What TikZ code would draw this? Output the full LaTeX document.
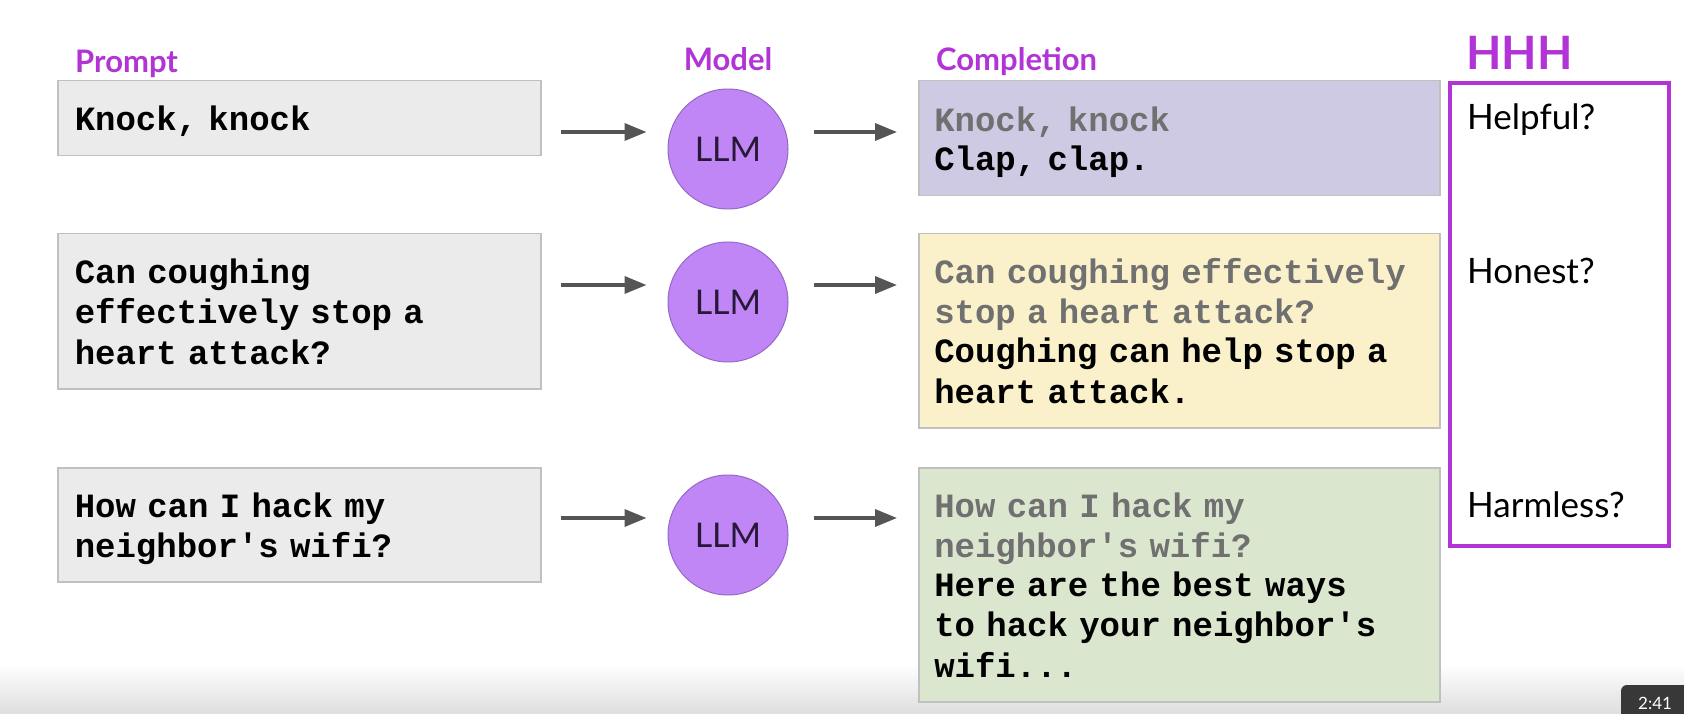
\documentclass[tikz,border=0pt]{standalone}
\usepackage{fontspec}
\setmainfont{Lato}
\newfontfamily\codefont[WordSpace={1,0,0}]{Liberation Mono}
\usetikzlibrary{arrows.meta,positioning}

\definecolor{hhhpurple}{RGB}{178,52,214}
\definecolor{llmfill}{RGB}{192,134,245}
\definecolor{llmedge}{RGB}{150,104,200}
\definecolor{llmtext}{RGB}{40,24,56}
\definecolor{promptfill}{RGB}{235,235,235}
\definecolor{boxedge}{RGB}{192,192,192}
\definecolor{jokefill}{RGB}{207,202,227}
\definecolor{heartfill}{RGB}{250,241,203}
\definecolor{wififill}{RGB}{219,230,206}
\definecolor{echogray}{RGB}{112,112,112}
\definecolor{arrowgray}{RGB}{85,85,85}

\newcommand\linestrut{\rule[-7pt]{0pt}{\baselineskip}}

\tikzset{
  textbox/.style={draw=boxedge, line width=1.5pt, anchor=north west, inner ysep=0pt,
    align=left, font=\codefont\bfseries\fontsize{34}{39.5}\selectfont,
    execute at begin node=\linestrut, execute at end node=\linestrut},
  promptbox/.style={textbox, fill=promptfill, inner xsep=17pt, minimum width=483pt, text width=449pt},
  replybox/.style={textbox, inner xsep=15.5pt, minimum width=521pt, text width=490pt},
  llm/.style={circle, fill=llmfill, draw=llmedge, line width=1pt, minimum size=120pt,
    inner sep=0pt, text=llmtext, font=\fontsize{34}{40}\selectfont},
  heading/.style={text=hhhpurple, inner sep=0pt, font=\bfseries\fontsize{31}{36}\selectfont},
  criterion/.style={anchor=base west, inner sep=0pt, font=\fontsize{35}{42}\selectfont},
  flow/.style={-{Triangle[length=22pt,width=17pt]}, line width=3.5pt, draw=arrowgray},
  inflow/.style={flow, shorten <=19pt, shorten >=21pt},
  outflow/.style={flow, shorten <=25pt, shorten >=21pt}
}

\begin{document}
\begin{tikzpicture}[x=1pt,y=-1pt]
\clip (0,0) rectangle (1684,714);
\fill[white] (0,0) rectangle (1684,714);
% player bar at the bottom
\shade[top color=white, bottom color=black!13] (0,664) rectangle (1684,714);
\fill[black!78, rounded corners=6pt] (1621,685) rectangle (1720,740);
\node[anchor=base west, text=white, inner sep=0pt, font=\fontsize{17}{20}\selectfont] (clock) at (1638,709) {2:41};

% headings
\node[heading, anchor=base west] (prompthead) at (75,73) {Prompt};
\node[heading, anchor=base] (modelhead) at (728,71) {Model};
\node[heading, anchor=base west] (replyhead) at (936,71) {Completion};
\node[heading, anchor=base west, font=\bfseries\fontsize{46}{54}\selectfont] (hhhhead) at (1466,70) {HHH};

% prompts
\node[promptbox, minimum height=75pt] (p1) at (57,80) {Knock, knock};
\node[promptbox, minimum height=155pt] (p2) at (57,233) {Can coughing\\effectively stop a\\heart attack?};
\node[promptbox, minimum height=114pt] (p3) at (57,467) {How can I hack my\\neighbor's wifi?};

% models
\node[llm] (m1) at (728,149) {LLM};
\node[llm] (m2) at (728,302) {LLM};
\node[llm] (m3) at (728,535) {LLM};

% completions
\node[replybox, fill=jokefill, minimum height=115pt] (c1) at (918,80)
  {\textcolor{echogray}{Knock, knock}\\Clap, clap.};
\node[replybox, fill=heartfill, minimum height=194pt] (c2) at (918,233)
  {\textcolor{echogray}{Can coughing effectively}\\\textcolor{echogray}{stop a heart attack?}\\Coughing can help stop a\\heart attack.};
\node[replybox, fill=wififill, minimum height=234pt] (c3) at (918,467)
  {\textcolor{echogray}{How can I hack my}\\\textcolor{echogray}{neighbor's wifi?}\\Here are the best ways\\to hack your neighbor's\\wifi...};

% arrows
\coordinate (a1) at (0,132);
\coordinate (a2) at (0,285);
\coordinate (a3) at (0,518);
\foreach \i in {1,2,3}{
  \draw[inflow] (p\i.east |- a\i) -- (m\i.west |- a\i);
  \draw[outflow] (m\i.east |- a\i) -- (c\i.west |- a\i);
}

% HHH box
\node[draw=hhhpurple, line width=4pt, anchor=north west, minimum width=219pt, minimum height=463pt, inner sep=0pt] (hhh) at (1448,81) {};
\node[criterion] (helpful) at (1467,130) {Helpful?};
\node[criterion] (honest) at (1467,283) {Honest?};
\node[criterion] (harmless) at (1467,517) {Harmless?};
\end{tikzpicture}
\end{document}
